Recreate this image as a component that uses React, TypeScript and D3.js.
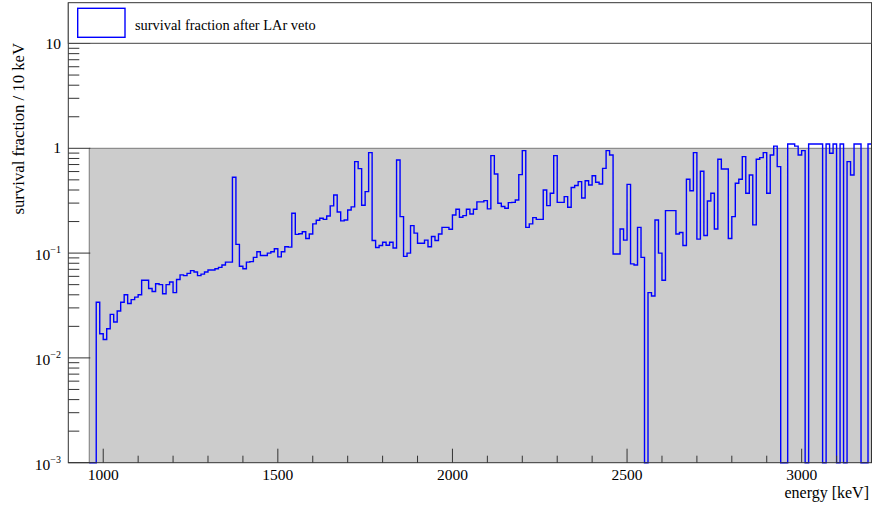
import React from "react";
import * as d3 from "d3";

// histogram binning (keV)
const binStart = 960;
const binWidth = 10;

// survival fraction after LAr veto, one value per 10 keV bin starting at 960 keV (0 = empty bin)
const survival = [
  // 960 - 1050
  0, 0, 0.034, 0.017, 0.015, 0.019, 0.026, 0.022, 0.028, 0.034,
  // 1060 - 1150
  0.04, 0.033, 0.036, 0.038, 0.04, 0.055, 0.055, 0.046, 0.043, 0.051,
  // 1160 - 1250
  0.05, 0.041, 0.05, 0.053, 0.042, 0.056, 0.062, 0.061, 0.064, 0.068,
  // 1260 - 1350
  0.066, 0.061, 0.063, 0.066, 0.069, 0.069, 0.071, 0.073, 0.077, 0.082,
  // 1360 - 1450
  0.082, 0.53, 0.121, 0.075, 0.071, 0.082, 0.083, 0.091, 0.103, 0.095,
  // 1460 - 1550
  0.095, 0.1, 0.103, 0.11, 0.092, 0.103, 0.115, 0.114, 0.24, 0.151,
  // 1560 - 1650
  0.153, 0.16, 0.138, 0.152, 0.19, 0.206, 0.215, 0.21, 0.226, 0.282,
  // 1660 - 1750
  0.359, 0.247, 0.203, 0.207, 0.258, 0.276, 0.746, 0.64, 0.286, 0.386,
  // 1760 - 1850
  0.909, 0.132, 0.113, 0.118, 0.127, 0.119, 0.127, 0.112, 0.774, 0.223,
  // 1860 - 1950
  0.093, 0.1, 0.183, 0.155, 0.124, 0.124, 0.133, 0.115, 0.144, 0.132,
  // 1960 - 2050
  0.152, 0.176, 0.176, 0.169, 0.231, 0.262, 0.22, 0.228, 0.262, 0.236,
  // 2060 - 2150
  0.262, 0.308, 0.308, 0.317, 0.264, 0.851, 0.569, 0.299, 0.278, 0.268,
  // 2160 - 2250
  0.303, 0.305, 0.321, 0.561, 0.95, 0.176, 0.19, 0.218, 0.21, 0.21,
  // 2260 - 2350
  0.4, 0.284, 0.372, 0.851, 0.305, 0.305, 0.346, 0.274, 0.422, 0.441,
  // 2360 - 2450
  0.481, 0.336, 0.491, 0.447, 0.548, 0.474, 0.457, 0.644, 0.95, 0.864,
  // 2460 - 2550
  0.098, 0.098, 0.17, 0.133, 0.453, 0.079, 0.077, 0.176, 0.091, 0,
  // 2560 - 2650
  0.042, 0.039, 0.207, 0.1, 0.055, 0.254, 0.254, 0.254, 0.152, 0.157,
  // 2660 - 2750
  0.118, 0.506, 0.394, 0.909, 0.136, 0.604, 0.147, 0.314, 0.372, 0.17,
  // 2760 - 2850
  0.785, 0.635, 0.635, 0.138, 0.223, 0.464, 0.506, 0.833, 0.372, 0.557,
  // 2860 - 2950
  0.186, 0.785, 0.815, 0.909, 0.372, 0.864, 1.05, 0.668, 0, 0,
  // 2960 - 3050
  1.1, 1.1, 1.05, 0.864, 0.95, 0, 1.1, 1.1, 1.1, 1.1,
  // 3060 - 3150
  0, 1.1, 0.896, 1.1, 0, 1.1, 0, 0.746, 0.557, 1.1,
  // 3160 - 3190
  1.1, 0, 0, 1.1,
];

// reference (before veto) level, drawn as the grey filled histogram
const referenceLevel = 1;

const xMajorTicks = [1000, 1500, 2000, 2500, 3000];
const xMinorTicks = [1100, 1200, 1300, 1400, 1600, 1700, 1800, 1900, 2100, 2200, 2300, 2400, 2600, 2700, 2800, 2900, 3100, 3200];
const yMajorTicks = [1e-3, 1e-2, 1e-1, 1, 10];
const yMajorLabels = [
  { base: "10", exp: "\u22123" },
  { base: "10", exp: "\u22122" },
  { base: "10", exp: "\u22121" },
  { base: "1", exp: "" },
  { base: "10", exp: "" },
];
const minorMultipliers = [2, 3, 4, 5, 6, 7, 8, 9];

const legendLabel = "survival fraction after LAr veto";
const xTitle = "energy [keV]";
const yTitle = "survival fraction / 10 keV";

const W = 873;
const H = 511;
const frame = { left: 68.3, right: 871.5, top: 3, bottom: 462.7 };
const font = "'Liberation Serif', 'Times New Roman', serif";

const App: React.FC = () => {
  const x = d3.scaleLinear().domain([900, 3200]).range([frame.left, frame.right]);
  // 10 sits at y = 43.5, one decade is ~104.8 px
  const yTop = Math.pow(10, 1 + (43.5 - frame.top) / 104.8);
  const y = d3.scaleLog().domain([1e-3, yTop]).range([frame.bottom, frame.top]);
  const yv = (v: number) => (v > 0 ? y(v) : frame.bottom);

  const binEnd = binStart + survival.length * binWidth;
  const pts: [number, number][] = survival.map((v, i) => [binStart + i * binWidth, v]);
  pts.push([binEnd, survival[survival.length - 1]]);

  const line = d3
    .line<[number, number]>()
    .x((d) => x(d[0]))
    .y((d) => yv(d[1]))
    .curve(d3.curveStepAfter);

  const refPts: [number, number][] = pts.map((d) => [d[0], referenceLevel]);
  const refArea = d3
    .area<[number, number]>()
    .x((d) => x(d[0]))
    .y0(frame.bottom)
    .y1((d) => y(d[1]))
    .curve(d3.curveStepAfter);

  const yMinor: number[] = [];
  yMajorTicks.forEach((m) => {
    minorMultipliers.forEach((k) => {
      const v = m * k;
      if (v < yTop) yMinor.push(v);
    });
  });

  return (
    <svg
      width={W}
      height={H}
      style={{ position: "absolute", left: 0, top: 0, background: "#fff" }}
      fontFamily={font}
    >
      <rect x={0} y={0} width={W} height={H} fill="#fff" />

      {/* grey reference histogram */}
      <path d={refArea(refPts) || ""} fill="#cccccc" />
      <path
        d={`M${x(binStart)},${frame.bottom}V${y(referenceLevel)}H${x(binEnd)}`}
        fill="none"
        stroke="#7a7a7a"
        strokeWidth={1}
      />

      {/* survival fraction histogram */}
      <path d={line(pts) || ""} fill="none" stroke="#0000ff" strokeWidth={1.4} />

      {/* frame */}
      <rect
        x={frame.left}
        y={frame.top}
        width={frame.right - frame.left}
        height={frame.bottom - frame.top}
        fill="none"
        stroke="#333"
        strokeWidth={1}
      />

      {/* x ticks */}
      {xMajorTicks.map((t) => (
        <g key={"xM" + t}>
          <line x1={x(t)} x2={x(t)} y1={frame.bottom} y2={frame.bottom - 14} stroke="#333" />
          <text x={x(t)} y={479.5} textAnchor="middle" fontSize={15.5} fill="#000">
            {t}
          </text>
        </g>
      ))}
      {xMinorTicks.map((t) => (
        <line key={"xm" + t} x1={x(t)} x2={x(t)} y1={frame.bottom} y2={frame.bottom - 7} stroke="#333" />
      ))}

      {/* y ticks */}
      {yMinor.map((t) => (
        <line key={"ym" + t} x1={frame.left} x2={frame.left + 11} y1={y(t)} y2={y(t)} stroke="#333" />
      ))}
      {yMajorTicks.map((t, i) => {
        const lab = yMajorLabels[i];
        const yy = y(t);
        return (
          <g key={"yM" + t}>
            <line x1={frame.left} x2={frame.left + 22} y1={yy} y2={yy} stroke="#333" />
            {lab.exp ? (
              <text x={61} y={yy + 7.3} textAnchor="end" fontSize={15.5} fill="#000">
                <tspan>{lab.base}</tspan>
                <tspan dy={-7.5} fontSize={10}>
                  {lab.exp}
                </tspan>
              </text>
            ) : (
              <text x={61} y={yy + 5} textAnchor="end" fontSize={15.5} fill="#000">
                {lab.base}
              </text>
            )}
          </g>
        );
      })}

      {/* axis titles */}
      <text x={869} y={497.5} textAnchor="end" fontSize={16} fill="#000">
        {xTitle}
      </text>
      <text transform="translate(24,43) rotate(-90)" textAnchor="end" fontSize={16.7} fill="#000">
        {yTitle}
      </text>

      {/* legend */}
      <rect x={frame.left} y={2.7} width={frame.right - frame.left} height={40.6} fill="#fff" stroke="#444" strokeWidth={1} />
      <rect x={77.7} y={8.3} width={47.3} height={29} fill="#fff" stroke="#0000ff" strokeWidth={1.4} />
      <text x={135} y={29.5} fontSize={14.4} fill="#000">
        {legendLabel}
      </text>
    </svg>
  );
};

export default App;
